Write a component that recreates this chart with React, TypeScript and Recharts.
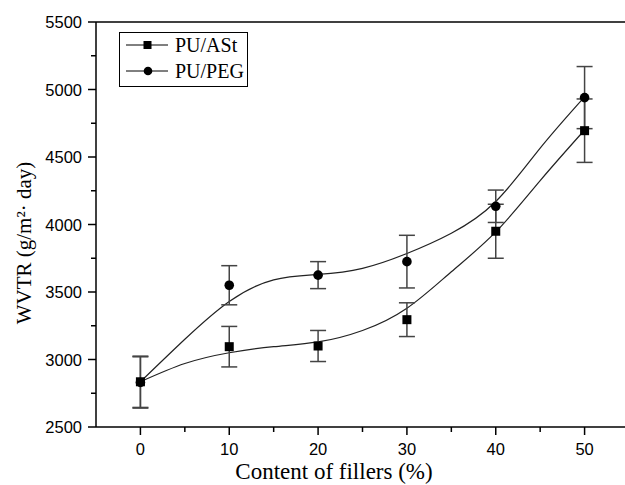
import React from 'react';
import {
  ComposedChart,
  Line,
  Scatter,
  ErrorBar,
  XAxis,
  YAxis,
  ReferenceLine,
  Legend,
  Label,
} from 'recharts';

const fillerContent = [0, 10, 20, 30, 40, 50];
const astWvtr = [2835, 3095, 3100, 3295, 3950, 4695];
const astErr = [190, 150, 115, 125, 200, 235];
const pegWvtr = [2830, 3550, 3625, 3725, 4135, 4940];
const pegErr = [190, 145, 100, 195, 120, 230];

// fitted curves
const fitX = [0, 5, 10, 15, 20, 25, 30, 35, 40, 45, 50];
const astFit = [2835, 2970, 3050, 3095, 3130, 3215, 3380, 3650, 3945, 4325, 4700];
const pegFit = [2835, 3150, 3430, 3590, 3630, 3675, 3785, 3935, 4170, 4565, 4945];

const xTicks = [0, 5, 10, 15, 20, 25, 30, 35, 40, 45, 50, 55];
const yTicks = [2500, 2750, 3000, 3250, 3500, 3750, 4000, 4250, 4500, 4750, 5000, 5250, 5500];

const astPoints = fillerContent.map((x, i) => ({ x, wvtr: astWvtr[i], err: astErr[i] }));
const pegPoints = fillerContent.map((x, i) => ({ x, wvtr: pegWvtr[i], err: pegErr[i] }));
const astCurve = fitX.map((x, i) => ({ x, wvtr: astFit[i] }));
const pegCurve = fitX.map((x, i) => ({ x, wvtr: pegFit[i] }));

const tickFont = '"Liberation Sans", Arial, sans-serif';
const titleFont = '"Liberation Serif", "Times New Roman", serif';

const XTick = (props: any) => {
  const { x, y, payload } = props;
  const major = payload.value % 10 === 0;
  return (
    <g>
      <line x1={x} x2={x} y1={y} y2={y + (major ? 8 : 5)} stroke="#000" strokeWidth={1.5} />
      {major && (
        <text x={x} y={y + 28} textAnchor="middle" fontSize={16.5} fontFamily={tickFont} fill="#000">
          {payload.value}
        </text>
      )}
    </g>
  );
};

const YTick = (props: any) => {
  const { x, y, payload } = props;
  const major = payload.value % 500 === 0;
  return (
    <g>
      <line x1={x - (major ? 8 : 5)} x2={x} y1={y} y2={y} stroke="#000" strokeWidth={1.5} />
      {major && (
        <text x={x - 14} y={y + 6} textAnchor="end" fontSize={16.5} fontFamily={tickFont} fill="#000">
          {payload.value}
        </text>
      )}
    </g>
  );
};

const Square = (props: any) => {
  const { cx, cy } = props;
  return <rect x={cx - 4.5} y={cy - 4.5} width={9} height={9} fill="#000" />;
};

const Dot = (props: any) => {
  const { cx, cy } = props;
  return <circle cx={cx} cy={cy} r={4.8} fill="#000" />;
};

const LegendBox = () => (
  <svg width={130} height={56} style={{ display: 'block' }}>
    <rect x={0.5} y={0.5} width={128} height={54} fill="#fff" stroke="#000" strokeWidth={1} />
    <line x1={7} x2={49} y1={13} y2={13} stroke="#000" strokeWidth={1} />
    <rect x={24.5} y={9} width={8} height={8} fill="#000" />
    <text x={56} y={20} fontSize={20} fontFamily={titleFont} fill="#000">PU/ASt</text>
    <line x1={7} x2={49} y1={39} y2={39} stroke="#000" strokeWidth={1} />
    <circle cx={29} cy={39} r={4.3} fill="#000" />
    <text x={56} y={46} fontSize={20} fontFamily={titleFont} fill="#000">PU/PEG</text>
  </svg>
);

export default function App() {
  return (
    <div
      style={{
        position: 'absolute',
        top: 0,
        left: 0,
        width: 625,
        height: 485,
        overflow: 'hidden',
        background: '#fff',
      }}
    >
      <ComposedChart width={640} height={485} margin={{ top: 22, right: 11, left: 0, bottom: 0 }}>
        <XAxis
          dataKey="x"
          type="number"
          domain={[-5, 55]}
          ticks={xTicks}
          interval={0}
          allowDataOverflow
          height={58}
          tickSize={0}
          tickMargin={0}
          tick={<XTick />}
          axisLine={{ stroke: '#000', strokeWidth: 1.5 }}
        >
          <Label
            content={() => (
              <text x={334} y={479} textAnchor="middle" fontSize={23} fontFamily={titleFont} fill="#000">
                Content of fillers (%)
              </text>
            )}
          />
        </XAxis>
        <YAxis
          dataKey="wvtr"
          type="number"
          domain={[2500, 5500]}
          ticks={yTicks}
          interval={0}
          allowDataOverflow
          width={96}
          tickSize={0}
          tickMargin={0}
          tick={<YTick />}
          axisLine={{ stroke: '#000', strokeWidth: 1.5 }}
        >
          <Label
            content={() => (
              <text
                x={31}
                y={243}
                transform="rotate(-90 31 243)"
                textAnchor="middle"
                fontSize={21}
                fontFamily={titleFont}
                fill="#000"
              >
                WVTR (g/m²· day)
              </text>
            )}
          />
        </YAxis>
        <ReferenceLine y={5500} stroke="#000" strokeWidth={1.5} ifOverflow="visible" />
        <Legend
          layout="horizontal"
          verticalAlign="middle"
          align="center"
          content={<LegendBox />}
          wrapperStyle={{ position: 'absolute', left: 119, top: 32, width: 130, height: 56 }}
        />
        <Line
          data={astCurve}
          dataKey="wvtr"
          type="natural"
          stroke="#222"
          strokeWidth={1.2}
          dot={false}
          activeDot={false}
          legendType="none"
          isAnimationActive={false}
        />
        <Line
          data={pegCurve}
          dataKey="wvtr"
          type="natural"
          stroke="#222"
          strokeWidth={1.2}
          dot={false}
          activeDot={false}
          legendType="none"
          isAnimationActive={false}
        />
        <Scatter name="PU/ASt" data={astPoints} dataKey="wvtr" shape={<Square />} isAnimationActive={false}>
          <ErrorBar dataKey="err" direction="y" width={8} stroke="#444" strokeWidth={1.5} />
        </Scatter>
        <Scatter name="PU/PEG" data={pegPoints} dataKey="wvtr" shape={<Dot />} isAnimationActive={false}>
          <ErrorBar dataKey="err" direction="y" width={8} stroke="#444" strokeWidth={1.5} />
        </Scatter>
      </ComposedChart>
    </div>
  );
}
